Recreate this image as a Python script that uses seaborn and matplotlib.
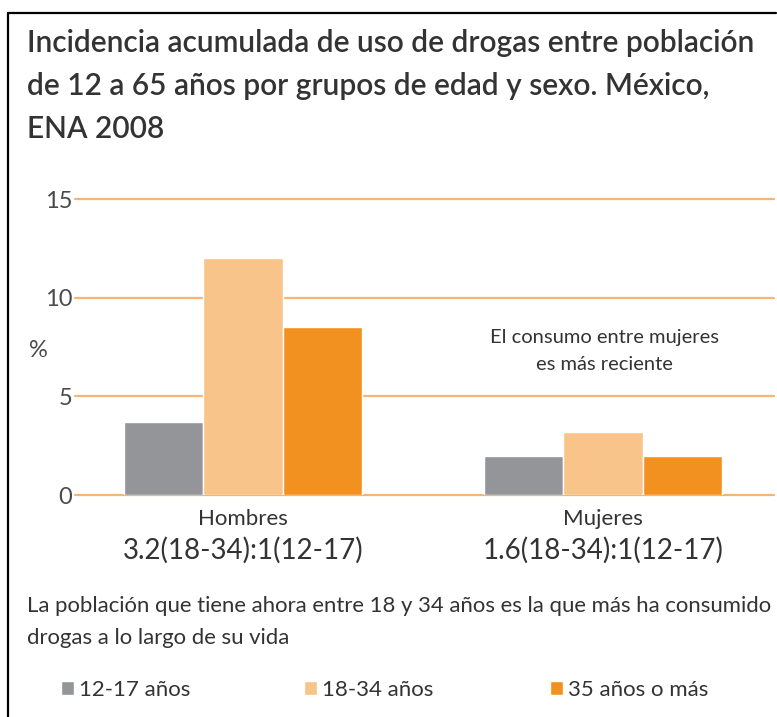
import numpy as np
import pandas as pd
import seaborn as sns
import matplotlib.pyplot as plt
from matplotlib.lines import Line2D

# data
sexos = ["Hombres", "Mujeres"]
edades = ["12-17 años", "18-34 años", "35 años o más"]
hombres = [3.7, 12.0, 8.5]
mujeres = [2.0, 3.2, 2.0]
razones = ["3.2(18-34):1(12-17)", "1.6(18-34):1(12-17)"]
y_ticks = [0, 5, 10, 15]

colores = ["#939598", "#F9C48A", "#F39120"]
grid_color = "#F8B570"
txt = "#333333"

df = pd.DataFrame({
    "sexo": np.repeat(sexos, len(edades)),
    "edad": edades * len(sexos),
    "pct": hombres + mujeres,
})

sns.set_theme(style="white")
plt.rcParams['font.family'] = ['Lato', 'DejaVu Sans']

fig = plt.figure(figsize=(7.77, 7.17), dpi=100)
ax = fig.add_axes([75 / 777, 1 - 495 / 717, (774 - 75) / 777, (495 - 199) / 717])

for y in y_ticks:
    ax.axhline(y, color=grid_color, lw=1.6, zorder=0, clip_on=False)

sns.barplot(data=df, x="sexo", y="pct", hue="edad", palette=colores,
            width=0.66, gap=0, saturation=1, ax=ax, zorder=2, legend=True)

ax.set_xlim(-0.467, 1.475)
ax.set_ylim(0, 15)
ax.set_yticks(y_ticks)
ax.set_yticklabels([str(v) for v in y_ticks], fontsize=17, color="#4a4a4a")
ax.tick_params(axis="y", length=0, pad=2)
ax.set_xticks([])
ax.set_xlabel("")
ax.set_ylabel("")
sns.despine(ax=ax, left=True, bottom=True)

handles, labels = ax.get_legend_handles_labels()
ax.get_legend().remove()

fig.text(38 / 777, 1 - 350 / 717, "%", fontsize=17, color="#4a4a4a", ha="center", va="center")

# category labels under each group
for i, (s, r) in enumerate(zip(sexos, razones)):
    xf = (75 + (i + 0.467) * 360) / 777
    fig.text(xf, 1 - 519 / 717, s, fontsize=16, color=txt, ha="center", va="center")
    fig.text(xf, 1 - 550 / 717, r, fontsize=20, color=txt, ha="center", va="center")

fig.text(604 / 777, 1 - 351 / 717, "El consumo entre mujeres\nes más reciente",
         fontsize=14.5, color=txt, ha="center", va="center", linespacing=1.65)

fig.text(27 / 777, 1 - 29 / 717,
         "Incidencia acumulada de uso de drogas entre población\n"
         "de 12 a 65 años por grupos de edad y sexo. México,\nENA 2008",
         fontsize=21.5, fontweight="semibold", color=txt, ha="left", va="top", linespacing=1.65)

fig.text(27 / 777, 1 - 622 / 717,
         "La población que tiene ahora entre 18 y 34 años es la que más ha consumido\n"
         "drogas a lo largo de su vida",
         fontsize=15.9, color=txt, ha="left", va="center", linespacing=1.75)

# legend, one entry per position
leg_x = [61, 304, 550]
for h, l, x in zip(handles, labels, leg_x):
    fig.legend([h], [l], loc="center left", bbox_to_anchor=(x / 777, 1 - 690 / 717),
               frameon=False, fontsize=16, handlelength=0.6, handleheight=0.6,
               handletextpad=0.2, labelcolor=txt, borderpad=0, borderaxespad=0)

# frame lines top and left
fig.add_artist(Line2D([8 / 777, 776 / 777], [1 - 13 / 717, 1 - 13 / 717], color="black", lw=1.6))
fig.add_artist(Line2D([8 / 777, 8 / 777], [1 - 13 / 717, 0], color="black", lw=1.6))

plt.savefig("out.png", dpi=100)
plt.close(fig)
